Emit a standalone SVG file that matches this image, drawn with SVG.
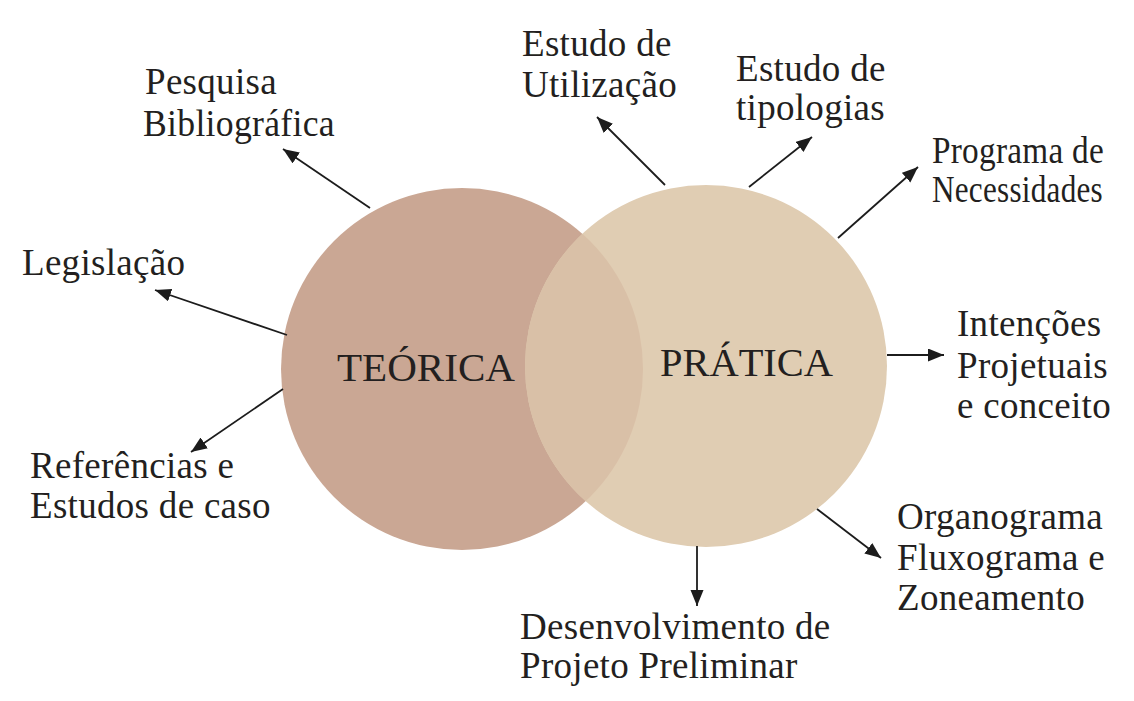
<svg xmlns="http://www.w3.org/2000/svg" width="1134" height="701" viewBox="0 0 1134 701">
<style>
.lbl{font-family:"Liberation Serif","Times New Roman",serif;font-size:37px;letter-spacing:0.3px;fill:#231f20;}
.big{font-family:"Liberation Serif","Times New Roman",serif;font-size:41px;fill:#231f20;}
.con{stroke:#1c1c1c;stroke-width:1.8;fill:none;marker-end:url(#ah);}
</style>
<defs>
<marker id="ah" markerUnits="userSpaceOnUse" markerWidth="17" markerHeight="14" refX="16" refY="6.5" orient="auto">
<path d="M0,0 L16,6.5 L0,13 z" fill="#1c1c1c"/>
</marker>
<clipPath id="clipR"><circle cx="706" cy="366" r="181"/></clipPath>
</defs>
<rect width="1134" height="701" fill="#ffffff"/>
<g id="teorica">
<circle cx="462" cy="369" r="181" fill="#caa794"/>
</g>
<g id="pratica">
<circle cx="706" cy="366" r="181" fill="#e0cdb3"/>
<circle cx="462" cy="369" r="181" fill="#d9c0a7" clip-path="url(#clipR)"/>
</g>
<g id="labels-main">
<text class="big" x="337" y="381" textLength="178" lengthAdjust="spacingAndGlyphs">TEÓRICA</text>
<text class="big" x="660" y="376" textLength="173" lengthAdjust="spacingAndGlyphs">PRÁTICA</text>
</g>
<g id="connectors">
<line class="con" x1="370" y1="208" x2="283" y2="149"/>
<line class="con" x1="287" y1="335" x2="155" y2="290"/>
<line class="con" x1="283" y1="389" x2="191" y2="452"/>
<line class="con" x1="665" y1="185" x2="597" y2="117"/>
<line class="con" x1="749" y1="187" x2="812" y2="137"/>
<line class="con" x1="838" y1="238" x2="918" y2="167"/>
<line class="con" x1="887" y1="355" x2="944" y2="355"/>
<line class="con" x1="817" y1="509" x2="881" y2="558"/>
<line class="con" x1="697" y1="546" x2="697" y2="606"/>
</g>
<g id="n-pesquisa">
<text class="lbl" x="145" y="94">Pesquisa</text>
<text class="lbl" x="143" y="136" textLength="192" lengthAdjust="spacingAndGlyphs">Bibliográfica</text>
</g>
<g id="n-legislacao">
<text class="lbl" x="22" y="275">Legislação</text>
</g>
<g id="n-referencias">
<text class="lbl" x="30" y="478">Referências e</text>
<text class="lbl" x="30" y="518">Estudos de caso</text>
</g>
<g id="n-utilizacao">
<text class="lbl" x="522" y="56">Estudo de</text>
<text class="lbl" x="522" y="97">Utilização</text>
</g>
<g id="n-tipologias">
<text class="lbl" x="736" y="81">Estudo de</text>
<text class="lbl" x="736" y="120">tipologias</text>
</g>
<g id="n-programa">
<text class="lbl" x="932" y="163" textLength="172" lengthAdjust="spacingAndGlyphs">Programa de</text>
<text class="lbl" x="932" y="202" textLength="171" lengthAdjust="spacingAndGlyphs">Necessidades</text>
</g>
<g id="n-intencoes">
<text class="lbl" x="957" y="336">Intenções</text>
<text class="lbl" x="957" y="378">Projetuais</text>
<text class="lbl" x="957" y="418">e conceito</text>
</g>
<g id="n-organograma">
<text class="lbl" x="897" y="529">Organograma</text>
<text class="lbl" x="897" y="570">Fluxograma e</text>
<text class="lbl" x="897" y="610">Zoneamento</text>
</g>
<g id="n-desenvolvimento">
<text class="lbl" x="520" y="639">Desenvolvimento de</text>
<text class="lbl" x="520" y="678">Projeto Preliminar</text>
</g>
</svg>
